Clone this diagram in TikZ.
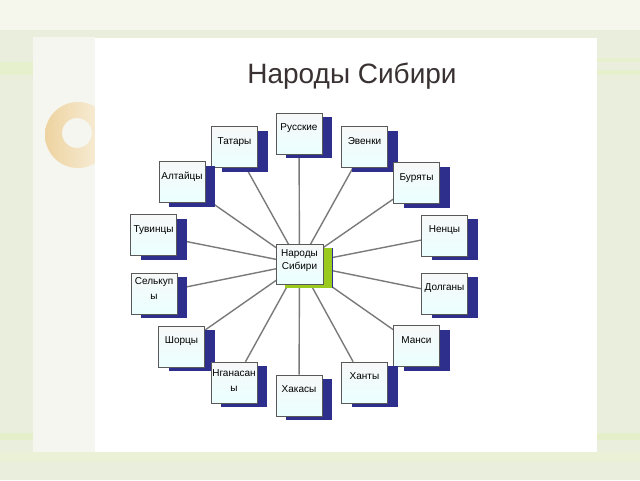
\documentclass[tikz,border=0pt]{standalone}
\usepackage{fontspec}
\setmainfont{Liberation Sans}
\usetikzlibrary{shadows}
\definecolor{sibblue}{HTML}{2E2E8C}
\definecolor{sibgreen}{HTML}{9ACA1E}
\definecolor{sibline}{HTML}{7A7A7A}
\definecolor{sibbg}{HTML}{EAEEDC}
\definecolor{sibstrip}{HTML}{F5F6EF}
\definecolor{sibring}{HTML}{EDD3A0}
\definecolor{sibtitle}{HTML}{3A3232}
\pgfdeclarelayer{bg}
\pgfdeclarelayer{lines}
\pgfsetlayers{bg,lines,main}
\tikzset{
  people/.style={draw=black!65,line width=0.6pt,minimum width=46pt,minimum height=41pt,
    inner sep=0pt,align=center,font=\fontsize{10}{15}\selectfont,text depth=12pt,
    top color=cyan!7!black!3!white,middle color=white,bottom color=cyan!8!white,
    drop shadow={shadow xshift=10pt,shadow yshift=-4pt,fill=sibblue,opacity=1}},
  hub/.style={people,minimum width=47pt,minimum height=40pt,text depth=9pt,
    font=\fontsize{10}{13}\selectfont,
    drop shadow={shadow xshift=9pt,shadow yshift=-4pt,fill=sibgreen,opacity=1}},
  spoke/.style={draw=sibline,line width=1.4pt}
}
\begin{document}
\begin{tikzpicture}[x=1pt,y=-1pt]
\useasboundingbox (0,0) rectangle (640,480);
\begin{pgfonlayer}{bg}
  % slide background
  \fill[sibbg] (0,0) rectangle (640,480);
  \fill[white!50!sibbg] (0,0) rectangle (640,30);
  \fill[sibgreen!25!white,opacity=.7] (0,62) rectangle (33,75);
  \fill[sibgreen!25!white,opacity=.7] (597,58) rectangle (640,62);
  \fill[sibgreen!25!white,opacity=.7] (597,70) rectangle (640,75);
  \fill[sibgreen!30!white,opacity=.6] (0,433) rectangle (640,440);
  \fill[sibgreen!20!white,opacity=.6] (0,452) rectangle (640,462);
  \fill[sibstrip] (33,37) rectangle (95,452);
  \shade[left color=sibring,right color=sibring!30!white,even odd rule]
    (78,135) circle (33) (77,133) circle (15);
  \fill[white] (95,38) rectangle (597,452);
\end{pgfonlayer}

\node [font=\fontsize{28}{30}\selectfont,text=sibtitle] (title) at (352,76) {Народы Сибири};

\node [hub] (c) at (299.5,264) {Народы\\Сибири};
\node [people] (rus) at (299,133.5) {Русские};
\node [people] (tat) at (234.5,147) {Татары};
\node [people] (eve) at (364.5,147) {Эвенки};
\node [people] (alt) at (182,182) {Алтайцы};
\node [people] (bur) at (416.5,183) {Буряты};
\node [people] (tuv) at (153.5,235) {Тувинцы};
\node [people] (nen) at (444.5,235.5) {Ненцы};
\node [people,text depth=10pt] (sel) at (154,293.5) {Селькуп\\ы};
\node [people] (dol) at (444.5,293.5) {Долганы};
\node [people] (sho) at (181.5,346.5) {Шорцы};
\node [people] (man) at (416.5,346) {Манси};
\node [people,text depth=4pt] (nga) at (234,382.5) {Нганасан\\ы};
\node [people] (kha) at (364.5,382.5) {Ханты};
\node [people] (hak) at (299,395.5) {Хакасы};

\begin{pgfonlayer}{lines}
  \foreach \p in {rus,tat,eve,alt,bur,tuv,nen,sel,dol,sho,man,nga,kha,hak}
    \path (c.center) edge [spoke] (\p);
\end{pgfonlayer}
\end{tikzpicture}
\end{document}
